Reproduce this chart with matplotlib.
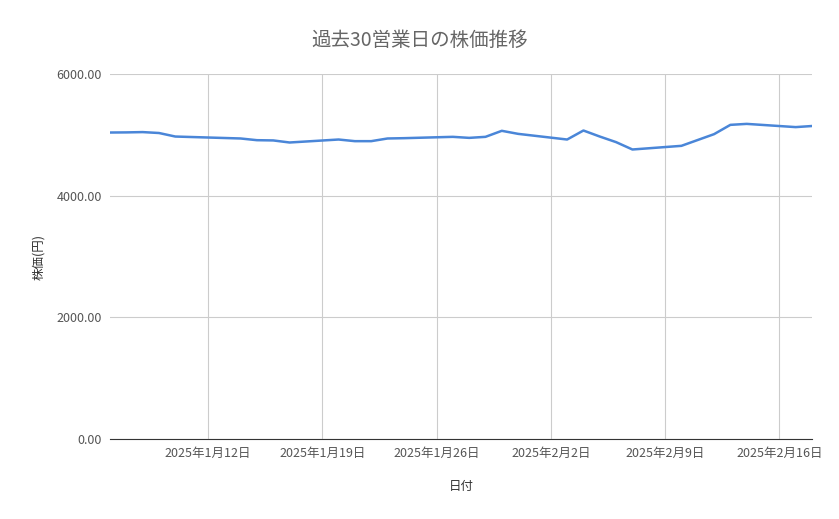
import matplotlib
matplotlib.use("Agg")
import matplotlib.pyplot as plt
import matplotlib.dates as mdates
import numpy as np

plt.rcParams['font.family'] = ['Noto Sans CJK JP', 'DejaVu Sans']

dates = ["2025-01-06","2025-01-07","2025-01-08","2025-01-09","2025-01-10",
         "2025-01-14","2025-01-15","2025-01-16","2025-01-17",
         "2025-01-20","2025-01-21","2025-01-22","2025-01-23","2025-01-24",
         "2025-01-27","2025-01-28","2025-01-29","2025-01-30","2025-01-31",
         "2025-02-03","2025-02-04","2025-02-05","2025-02-06","2025-02-07",
         "2025-02-10","2025-02-12","2025-02-13","2025-02-14",
         "2025-02-17","2025-02-18"]
prices = [5038, 5040, 5045, 5030, 4972,
          4940, 4912, 4908, 4874,
          4923, 4896, 4896, 4940, 4945,
          4967, 4950, 4967, 5066, 5016,
          4923, 5071, 4972, 4880, 4759,
          4819, 5011, 5164, 5180,
          5127, 5145]
tick_dates = ["2025-01-12","2025-01-19","2025-01-26","2025-02-02","2025-02-09","2025-02-16"]
tick_labels = ["2025年1月12日","2025年1月19日","2025年1月26日","2025年2月2日","2025年2月9日","2025年2月16日"]
yticks = [0, 2000, 4000, 6000]

x = [mdates.date2num(np.datetime64(d)) for d in dates]
xt = [mdates.date2num(np.datetime64(d)) for d in tick_dates]

fig = plt.figure(figsize=(8.39, 5.19), dpi=100)
ax = fig.add_axes([110/839, 1-439/519, (812-110)/839, (439-74)/519])
ax.plot(x, prices, color='#4a86d8', lw=1.8)
ax.set_xlim(x[0], x[-1])
ax.set_ylim(0, 6000)
ax.set_yticks(yticks)
ax.set_yticklabels([f"{v:.2f}" for v in yticks])
ax.set_xticks(xt)
ax.set_xticklabels(tick_labels)
ax.grid(True, color='#cccccc', lw=0.8)
ax.set_axisbelow(True)
for s in ['top', 'right', 'left']:
    ax.spines[s].set_visible(False)
ax.spines['bottom'].set_color('#333333')
ax.tick_params(length=0, labelsize=9, colors='#555555', pad=6)
ax.set_xlabel("日付", fontsize=9, color='#333333', labelpad=14)
ax.set_ylabel("株価(円)", fontsize=9, color='#333333', labelpad=8)
fig.text(0.5, 1-40/519, "過去30営業日の株価推移", ha='center', va='center', fontsize=14, color='#666666')
fig.savefig("out.png", dpi=100)
